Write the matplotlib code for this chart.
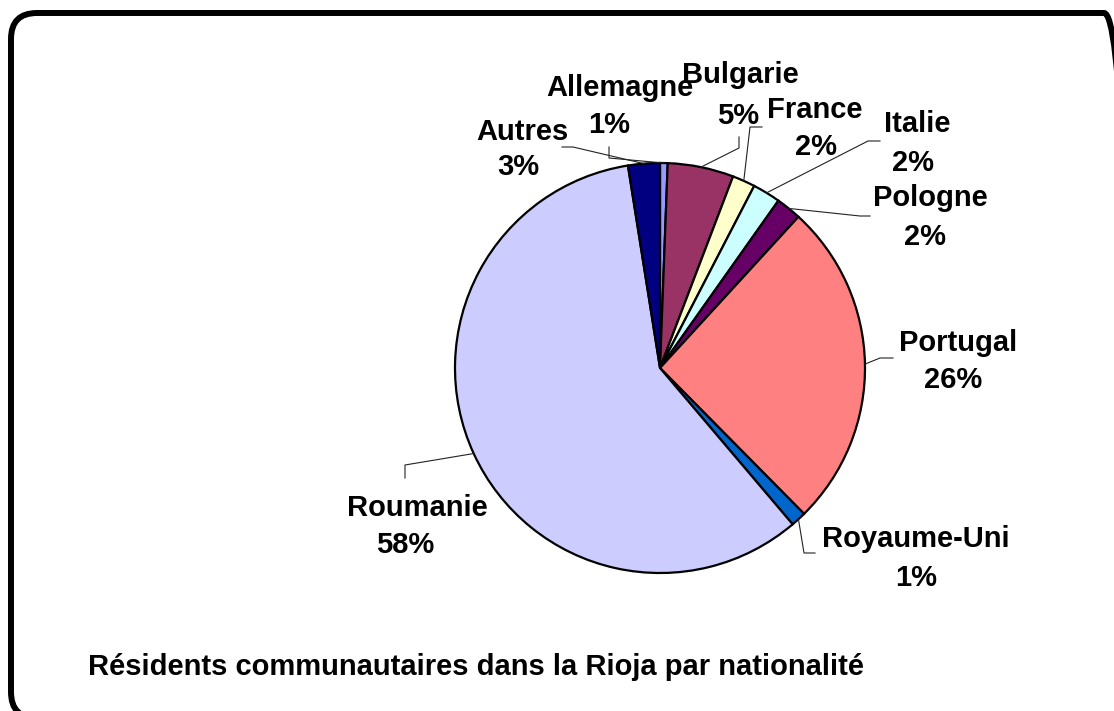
import numpy as np
import matplotlib
matplotlib.use("Agg")
import matplotlib.pyplot as plt
from matplotlib.patches import FancyBboxPatch

# data (clockwise from 12 o'clock)
pays = ["Allemagne", "Bulgarie", "France", "Italie", "Pologne",
        "Portugal", "Royaume-Uni", "Roumanie", "Autres"]
parts = [0.6, 5.2, 1.8, 2.2, 2.0, 25.8, 1.2, 58.7, 2.5]
etiquettes = ["1%", "5%", "2%", "2%", "2%", "26%", "1%", "58%", "3%"]
couleurs = ["#9999FF", "#993366", "#FFFFCC", "#CCFFFF", "#660066",
            "#FF8080", "#0066CC", "#CCCCFF", "#000080"]
titre = "Résidents communautaires dans la Rioja par nationalité"

W, H = 1114, 711
cx, cy, r = 660, 368, 205

# label layout in pixels: name centre, percent centre, leader start, leader knee
pos_nom = [(620, 88), (740, 75), (815, 110), (917, 124), (930, 198),
           (958, 343), (916, 539), (417, 508), (522, 132)]
pos_pct = [(609, 125), (738, 116), (816, 147), (913, 163), (925, 237),
           (953, 380), (916, 578), (405, 545), (518, 167)]
ligne_debut = [(609, 147), (739, 137), (762, 127), (880, 141), (870, 216),
               (893, 358), (815, 553), (405, 478), (562, 147)]
ligne_coude = [(609, 158), (739, 148), (750, 127), (868, 141), (860, 216),
               (880, 358), (804, 553), (405, 465), (573, 147)]

plt.rcParams['font.family'] = ['Liberation Sans', 'DejaVu Sans']

fig = plt.figure(figsize=(W / 100, H / 100), dpi=100)
ax = fig.add_axes([0, 0, 1, 1])

ax.pie(parts, colors=couleurs, startangle=90, counterclock=False,
       center=(cx, H - cy), radius=r,
       wedgeprops=dict(edgecolor="black", linewidth=1.6))
ax.set_xlim(0, W)
ax.set_ylim(0, H)
ax.set_aspect("equal")
ax.axis("off")

tot = sum(parts)
cum = 0
for i in range(len(pays)):
    mid = cum + parts[i] / 2
    cum += parts[i]
    th = np.deg2rad(90 - 360 * mid / tot)
    ex = cx + r * np.cos(th)
    ey = (H - cy) + r * np.sin(th)
    xs = [ligne_debut[i][0], ligne_coude[i][0], ex]
    ys = [H - ligne_debut[i][1], H - ligne_coude[i][1], ey]
    ax.plot(xs, ys, color="#222222", lw=0.8)
    ax.text(pos_nom[i][0], H - pos_nom[i][1], pays[i], ha="center", va="center",
            fontsize=21, fontweight="bold")
    ax.text(pos_pct[i][0], H - pos_pct[i][1], etiquettes[i], ha="center", va="center",
            fontsize=21, fontweight="bold")

ax.text(88, H - 667, titre, ha="left", va="center", fontsize=21, fontweight="bold")

cadre = FancyBboxPatch((11, H - 718), 1130 - 11, 718 - 13,
                       boxstyle="round,pad=0,rounding_size=26",
                       fill=False, edgecolor="black", linewidth=4.3, clip_on=False)
ax.add_patch(cadre)

fig.savefig("out.png", dpi=100)
